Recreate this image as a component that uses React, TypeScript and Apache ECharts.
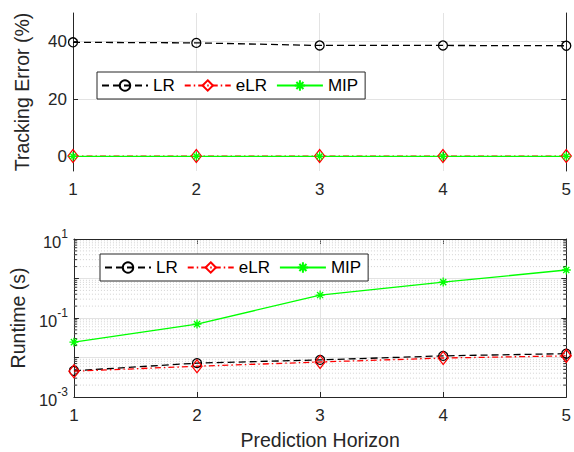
import React, { useEffect, useRef } from "react";
import * as echarts from "echarts";

const horizons = [1, 2, 3, 4, 5];
const errLR = [39.8, 39.6, 38.7, 38.7, 38.6];
const errELR = [0.2, 0.2, 0.2, 0.2, 0.2];
const errMIP = [0.1, 0.1, 0.1, 0.1, 0.1];
const rtLR = [0.0046, 0.0072, 0.0087, 0.011, 0.0125];
const rtELR = [0.0045, 0.006, 0.0077, 0.0097, 0.011];
const rtMIP = [0.0245, 0.07, 0.38, 0.81, 1.64];
const errTicks = [0, 20, 40];
const minorGridValues: number[] = [];
[-3, -2, -1, 0].forEach((e) => {
  for (let k = 2; k <= 9; k++) minorGridValues.push(k * Math.pow(10, e));
});

const FONT = "Liberation Sans, Arial, Helvetica, sans-serif";
const AX = "#262626";
const GRIDC = "#e3e3e3";
const ASTERISK = "path://M5,0L5,10M0,5L10,5M1.6,1.6L8.4,8.4M1.6,8.4L8.4,1.6";

const toPairs = (ys: number[]) => horizons.map((x, i) => [x, ys[i]]);

export default function App() {
  const ref = useRef<HTMLDivElement>(null);
  useEffect(() => {
    document.body.style.margin = "0";
    const chart = echarts.init(ref.current!, null, { renderer: "svg" });
    const xAxisBase = (gi: number) => ({
      type: "value",
      gridIndex: gi,
      min: 1,
      max: 5,
      interval: 1,
      axisLine: { lineStyle: { color: AX, width: 1 } },
      axisTick: { inside: true, length: 5, lineStyle: { color: AX } },
      axisLabel: { color: AX, fontSize: 17, fontFamily: FONT, margin: 10 },
      splitLine: { show: true, lineStyle: { color: GRIDC, width: 1 } },
    });
    const xAxisTop = (gi: number) => ({
      type: "value",
      gridIndex: gi,
      position: "top",
      min: 1,
      max: 5,
      interval: 1,
      axisLine: { show: true, lineStyle: { color: AX, width: 1 } },
      axisTick: { inside: true, length: 5, lineStyle: { color: AX } },
      axisLabel: { show: false },
      splitLine: { show: false },
    });
    const lrStyle = {
      type: "line",
      symbol: "circle",
      symbolSize: 9,
      lineStyle: { color: "#000", type: [7, 4], width: 1.3 },
      itemStyle: { color: "rgba(255,255,255,0)", borderColor: "#000", borderWidth: 1.3 },
    };
    const elrStyle = {
      type: "line",
      symbol: "diamond",
      symbolSize: [10, 13],
      lineStyle: { color: "#ff0000", type: [6, 3, 1.5, 3], width: 1.3 },
      itemStyle: { color: "rgba(255,255,255,0)", borderColor: "#ff0000", borderWidth: 1.3 },
    };
    const mipStyle = {
      type: "line",
      symbol: ASTERISK,
      symbolSize: 9,
      lineStyle: { color: "#00ff00", type: "solid", width: 1.3 },
      itemStyle: { color: "#00ff00", borderColor: "#00ff00", borderWidth: 1.3 },
    };
    const legendBase = {
      data: ["LR", "eLR", "MIP"],
      orient: "horizontal",
      itemWidth: 46,
      itemHeight: 13,
      itemGap: 9,
      padding: [5, 7, 5, 4],
      borderColor: AX,
      borderWidth: 1,
      backgroundColor: "#fff",
      textStyle: { color: "#000", fontSize: 17, fontFamily: FONT },
    };
    chart.setOption({
      animation: false,
      backgroundColor: "#fff",
      textStyle: { fontFamily: FONT },
      grid: [
        { left: 73, top: 13, width: 495, height: 158 },
        { left: 73, top: 239, width: 495, height: 158 },
      ],
      legend: [
        { ...legendBase, left: 97, top: 72 },
        { ...legendBase, left: 100, top: 254 },
      ],
      xAxis: [
        xAxisBase(0),
        {
          ...xAxisBase(1),
          name: "Prediction Horizon",
          nameLocation: "middle",
          nameGap: 33,
          nameTextStyle: { color: AX, fontSize: 19.5, fontFamily: FONT },
        },
        xAxisTop(0),
        xAxisTop(1),
      ],
      yAxis: [
        {
          type: "value",
          gridIndex: 0,
          min: -5,
          max: 50,
          name: "Tracking Error (%)",
          nameLocation: "middle",
          nameGap: 41,
          nameTextStyle: { color: AX, fontSize: 19.5, fontFamily: FONT },
          axisLine: { show: true, lineStyle: { color: AX } },
          axisTick: { show: true, inside: true, length: 5, customValues: errTicks, lineStyle: { color: AX } },
          axisLabel: { color: AX, fontSize: 17, fontFamily: FONT, customValues: errTicks, margin: 6 },
          splitLine: { show: true, lineStyle: { color: GRIDC } },
        },
        {
          type: "log",
          logBase: 10,
          gridIndex: 1,
          min: 0.001,
          max: 10,
          name: "Runtime (s)",
          nameLocation: "middle",
          nameGap: 41,
          nameTextStyle: { color: AX, fontSize: 19.5, fontFamily: FONT },
          axisLine: { show: true, lineStyle: { color: AX } },
          axisTick: { show: true, inside: true, length: 5, lineStyle: { color: AX } },
          axisLabel: {
            margin: 6,
            formatter: (v: number) => {
              const e = Math.round(Math.log10(v));
              if (Math.abs(e) % 2 === 0) return "";
              return `{b|10}{s|${e}}`;
            },
            rich: {
              b: { fontSize: 16.5, color: AX, fontFamily: FONT, lineHeight: 22, verticalAlign: "bottom" },
              s: { fontSize: 12, color: AX, fontFamily: FONT, lineHeight: 14, verticalAlign: "top" },
            },
          },
          splitLine: { show: true, lineStyle: { color: GRIDC } },
        },
        {
          type: "value",
          gridIndex: 0,
          position: "right",
          min: -5,
          max: 50,
          axisLine: { show: true, lineStyle: { color: AX } },
          axisTick: { show: true, inside: true, length: 5, customValues: errTicks, lineStyle: { color: AX } },
          axisLabel: { show: false },
          splitLine: { show: false },
        },
        {
          type: "log",
          logBase: 10,
          gridIndex: 1,
          position: "right",
          min: 0.001,
          max: 10,
          axisLine: { show: true, lineStyle: { color: AX } },
          axisTick: { show: true, inside: true, length: 5, lineStyle: { color: AX } },
          axisLabel: { show: false },
          splitLine: { show: false },
        },
      ],
      series: [
        {
          type: "custom",
          name: "minorTicks",
          xAxisIndex: 1,
          yAxisIndex: 1,
          silent: true,
          z: 1,
          data: minorGridValues.map((v) => [1, v]),
          encode: { x: 0, y: 1 },
          renderItem: (params: any, api: any) => {
            const cs = params.coordSys;
            const y = api.coord([1, api.value(1)])[1];
            const style = { stroke: AX, lineWidth: 1 };
            return {
              type: "group",
              children: [
                { type: "line", shape: { x1: cs.x, y1: y, x2: cs.x + cs.width, y2: y }, style: { stroke: "#d2d2d2", lineWidth: 1, lineDash: [1, 2] } },
                { type: "line", shape: { x1: cs.x, y1: y, x2: cs.x + 3, y2: y }, style },
                { type: "line", shape: { x1: cs.x + cs.width - 3, y1: y, x2: cs.x + cs.width, y2: y }, style },
              ],
            };
          },
        },
        { ...lrStyle, name: "LR", xAxisIndex: 0, yAxisIndex: 0, data: toPairs(errLR) },
        { ...elrStyle, name: "eLR", xAxisIndex: 0, yAxisIndex: 0, data: toPairs(errELR) },
        { ...mipStyle, name: "MIP", xAxisIndex: 0, yAxisIndex: 0, data: toPairs(errMIP) },
        { ...lrStyle, name: "LR", xAxisIndex: 1, yAxisIndex: 1, data: toPairs(rtLR) },
        { ...elrStyle, name: "eLR", xAxisIndex: 1, yAxisIndex: 1, data: toPairs(rtELR) },
        { ...mipStyle, name: "MIP", xAxisIndex: 1, yAxisIndex: 1, data: toPairs(rtMIP) },
      ],
    });
    return () => chart.dispose();
  }, []);
  return <div ref={ref} style={{ width: 574, height: 452 }} />;
}
